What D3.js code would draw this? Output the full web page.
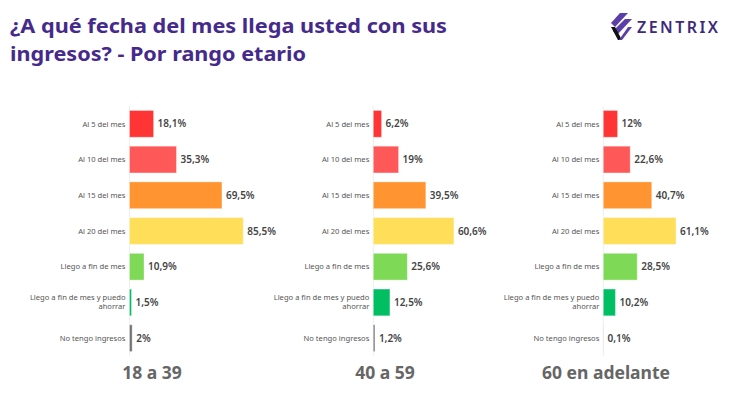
<!doctype html>
<meta charset="utf-8">
<title>Ingresos por rango etario</title>
<script src="https://cdn.jsdelivr.net/npm/d3@7"></script>
<style>
  body { margin: 0; background: #fff; }
  svg { display: block; font-family: "Noto Sans", "Open Sans", sans-serif; }
</style>
<div id="chart"></div>
<script>
  // categorías y valores (%) por rango de edad
  const categories = [
    'Al 5 del mes',
    'Al 10 del mes',
    'Al 15 del mes',
    'Al 20 del mes',
    'Llego a fin de mes',
    'Llego a fin de mes y puedo ahorrar',
    'No tengo ingresos'
  ]
  const groups = ['18 a 39', '40 a 59', '60 en adelante']
  const values18 = [18.1, 35.3, 69.5, 85.5, 10.9, 1.5, 2]
  const values40 = [6.2, 19, 39.5, 60.6, 25.6, 12.5, 1.2]
  const values60 = [12, 22.6, 40.7, 61.1, 28.5, 10.2, 0.1]
  const valueLabels18 = ['18,1%', '35,3%', '69,5%', '85,5%', '10,9%', '1,5%', '2%']
  const valueLabels40 = ['6,2%', '19%', '39,5%', '60,6%', '25,6%', '12,5%', '1,2%']
  const valueLabels60 = ['12%', '22,6%', '40,7%', '61,1%', '28,5%', '10,2%', '0,1%']
  const colors = ['#ff3434', '#ff5858', '#ff9431', '#ffde59', '#7ed957', '#00bf63', '#737373']

  const panels = [
    { title: groups[0], values: values18, labels: valueLabels18, x0: 129.5, span: 133, cx: 152 },
    { title: groups[1], values: values40, labels: valueLabels40, x0: 373.3, span: 133, cx: 385 },
    { title: groups[2], values: values60, labels: valueLabels60, x0: 603.3, span: 119, cx: 606 }
  ]

  const svg = d3.select('#chart')
    .append('svg')
    .attr('width', 730)
    .attr('height', 411)

  // título
  const titleColor = '#452a8c'
  const title = svg.append('text')
    .attr('fill', titleColor)
    .attr('font-weight', 700)
    .attr('font-size', 20)
  title.append('tspan').attr('x', 10).attr('y', 33)
    .attr('textLength', 437).attr('lengthAdjust', 'spacingAndGlyphs')
    .text('¿A qué fecha del mes llega usted con sus')
  title.append('tspan').attr('x', 10).attr('y', 61)
    .attr('textLength', 296).attr('lengthAdjust', 'spacingAndGlyphs')
    .text('ingresos? - Por rango etario')

  // logo
  const logo = svg.append('g').attr('transform', 'translate(611, 13)')
  logo.append('path').attr('d', 'M9 0 L17 0 L4 14 L0 10 Z').attr('fill', '#5b3fa6')
  logo.append('path').attr('d', 'M14 6 L21 6 L6 22 L2 18 Z').attr('fill', '#5b3fa6')
  logo.append('path').attr('d', 'M0 14 L4 14 L11 27 L7 27 Z').attr('fill', '#111')
  logo.append('path').attr('d', 'M17 14 L21 14 L11 27 L8 27 Z').attr('fill', '#5b3fa6')
  svg.append('text')
    .attr('x', 637).attr('y', 33)
    .attr('fill', '#3d2a7a')
    .attr('font-weight', 600)
    .attr('font-size', 16)
    .attr('letter-spacing', 1)
    .attr('textLength', 82)
    .text('ZENTRIX')

  const y = d3.scaleBand()
    .domain(categories)
    .range([106, 356])
    .paddingInner(0.25)
    .paddingOuter(0.125)

  panels.forEach(p => {
    const x = d3.scaleLinear().domain([0, 100]).range([p.x0, p.x0 + p.span])
    const g = svg.append('g')

    // eje vertical tenue
    g.append('line')
      .attr('x1', x(0)).attr('x2', x(0))
      .attr('y1', y.range()[0]).attr('y2', y.range()[1])
      .attr('stroke', '#eeeeee')

    // etiquetas de categoría
    const cat = g.selectAll('.cat')
      .data(categories)
      .enter()
      .append('text')
      .attr('class', 'cat')
      .attr('text-anchor', 'end')
      .attr('fill', '#555')
      .attr('font-size', 7.6)
      .attr('transform', d => `translate(${x(0) - 4}, ${y(d) + y.bandwidth() / 2})`)
    cat.each(function (d) {
      const t = d3.select(this)
      if (d.length > 20) {
        t.append('tspan').attr('x', 0).attr('dy', '-0.3em').text('Llego a fin de mes y puedo')
        t.append('tspan').attr('x', 0).attr('dy', '1.2em').text('ahorrar')
      } else {
        t.append('tspan').attr('x', 0).attr('dy', '0.35em').text(d)
      }
    })

    // barras
    g.selectAll('rect')
      .data(p.values)
      .enter()
      .append('rect')
      .attr('x', x(0))
      .attr('y', (d, i) => y(categories[i]))
      .attr('width', d => x(d) - x(0))
      .attr('height', y.bandwidth())
      .attr('fill', (d, i) => colors[i])
      .attr('stroke', '#fff')
      .attr('stroke-opacity', 0.35)
      .attr('stroke-width', 1)

    // valores
    g.selectAll('.val')
      .data(p.values)
      .enter()
      .append('text')
      .attr('class', 'val')
      .attr('x', d => x(d) + 4)
      .attr('y', (d, i) => y(categories[i]) + y.bandwidth() / 2)
      .attr('dy', '0.35em')
      .attr('fill', '#444')
      .attr('font-size', 10)
      .attr('font-weight', 600)
      .text((d, i) => p.labels[i])

    // título del panel
    g.append('text')
      .attr('x', p.cx)
      .attr('y', 379)
      .attr('text-anchor', 'middle')
      .attr('fill', '#666')
      .attr('font-size', 17.5)
      .attr('font-weight', 700)
      .text(p.title)
  })
</script>
